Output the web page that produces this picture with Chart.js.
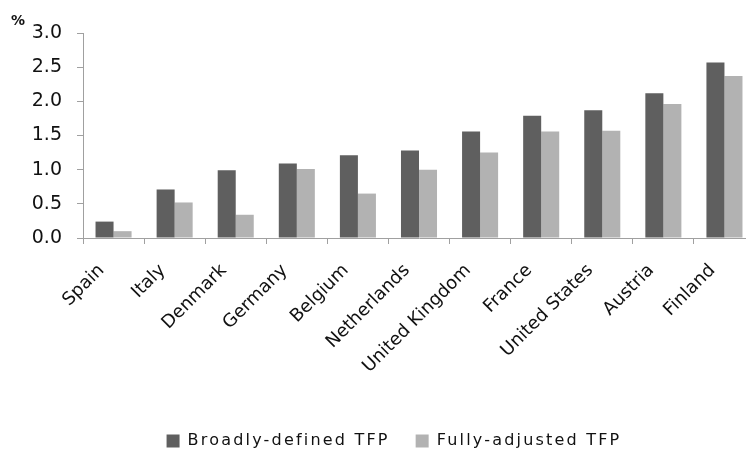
<!DOCTYPE html>
<html>
<head>
<meta charset="utf-8">
<script src="https://cdn.jsdelivr.net/npm/chart.js@4/dist/chart.umd.min.js"></script>
<style>
  html, body { margin: 0; padding: 0; background: #fff; overflow: hidden; }
  #wrap { position: relative; width: 756px; height: 453px; }
</style>
</head>
<body>
<div id="wrap"><canvas id="c"></canvas></div>
<script>
const categories = ['Spain', 'Italy', 'Denmark', 'Germany', 'Belgium', 'Netherlands', 'United Kingdom', 'France', 'United States', 'Austria', 'Finland'];
const broadlyDefined = [0.24, 0.71, 0.99, 1.09, 1.21, 1.28, 1.56, 1.79, 1.87, 2.12, 2.57];
const fullyAdjusted = [0.10, 0.52, 0.34, 1.01, 0.65, 1.00, 1.25, 1.56, 1.57, 1.96, 2.37];
const yTicks = [0.0, 0.5, 1.0, 1.5, 2.0, 2.5, 3.0];
const seriesNames = ['Broadly-defined TFP', 'Fully-adjusted TFP'];
const unitLabel = '%';

const FONT = "'DejaVu Sans', sans-serif";

const legendSpacing = {
  id: 'legendSpacing',
  afterInit(chart) {
    const lg = chart.legend;
    if (!lg || lg._wrapped) return;
    ['fit', 'draw'].forEach(fn => {
      const orig = lg[fn];
      lg[fn] = function (...a) {
        const ctx = chart.ctx;
        const prev = ctx.letterSpacing;
        try { ctx.letterSpacing = '2.2px'; } catch (e) {}
        try { return orig.apply(this, a); }
        finally { try { ctx.letterSpacing = prev || '0px'; } catch (e) {} }
      };
    });
    lg._wrapped = true;
  }
};

const unitPlugin = {
  id: 'unitPlugin',
  afterDraw(chart) {
    const ctx = chart.ctx;
    ctx.save();
    ctx.font = "bold 14px " + FONT;
    ctx.fillStyle = '#111';
    ctx.textAlign = 'left';
    ctx.textBaseline = 'middle';
    ctx.fillText(unitLabel, 11, 21);
    ctx.restore();
  }
};

new Chart(document.getElementById('c'), {
  type: 'bar',
  data: {
    labels: categories,
    datasets: [
      { label: seriesNames[0], data: broadlyDefined, backgroundColor: '#5f5f5f', borderWidth: 0 },
      { label: seriesNames[1], data: fullyAdjusted, backgroundColor: '#b2b2b2', borderWidth: 0 }
    ]
  },
  options: {
    responsive: true,
    maintainAspectRatio: false,
    animation: false,
    layout: { padding: { left: 33, right: 1, top: 33, bottom: -6 } },
    datasets: { bar: { categoryPercentage: 0.59, barPercentage: 1.0 } },
    plugins: {
      legend: {
        position: 'bottom',
        labels: {
          boxWidth: 13, boxHeight: 13, padding: 26,
          color: '#111',
          font: { family: FONT, size: 16 }
        }
      },
      tooltip: { enabled: false },
      title: { display: false }
    },
    scales: {
      x: {
        offset: true,
        grid: { display: true, drawOnChartArea: false, drawTicks: true, tickLength: 6, color: '#a0a0a0', offset: true },
        border: { display: true, color: '#a0a0a0', width: 1 },
        ticks: {
          autoSkip: false, maxRotation: 45, minRotation: 45,
          padding: 16, labelOffset: -12,
          color: '#111',
          font: { family: FONT, size: 18 }
        },
        afterFit(axis) { axis.height = 169; }
      },
      y: {
        min: 0, max: 3,
        afterBuildTicks(axis) { axis.ticks = yTicks.map(v => ({ value: v })); },
        grid: { display: true, drawOnChartArea: false, drawTicks: true, tickLength: 6, color: '#a0a0a0' },
        border: { display: true, color: '#a0a0a0', width: 1 },
        ticks: {
          padding: 15,
          color: '#111',
          font: { family: FONT, size: 19 },
          callback: v => Number(v).toFixed(1)
        },
        afterFit(axis) { axis.width = 50; }
      }
    }
  },
  plugins: [legendSpacing, unitPlugin]
});
</script>
</body>
</html>
